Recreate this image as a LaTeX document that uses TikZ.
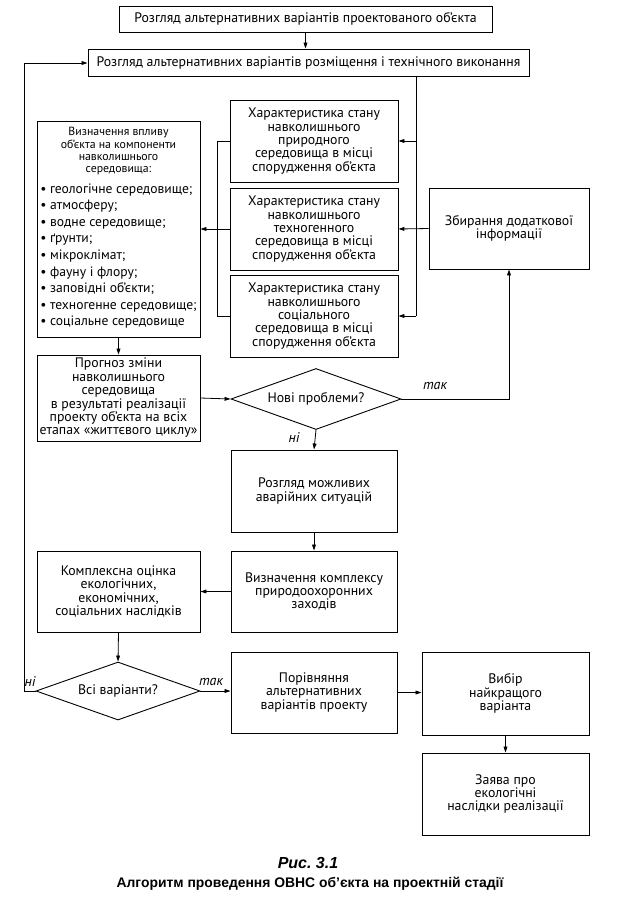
\documentclass[tikz,border=0pt]{standalone}
\usepackage{fontspec}
\setmainfont{PT Sans}
\newfontfamily\capfont{Liberation Sans}
\usetikzlibrary{arrows.meta,shapes.geometric}
\begin{document}
\begin{tikzpicture}[x=1pt,y=-1pt,
  every node/.style={font=\fontsize{13.8}{13.4}\selectfont},
  box/.style={draw, line width=0.9pt, inner sep=0pt, align=center},
  dia/.style={draw, line width=0.9pt, diamond, aspect=2.8, inner sep=0pt},
  conn/.style={line width=0.8pt, -{Triangle[length=6pt,width=3.8pt]}},
  plain/.style={line width=0.8pt},
  lbl/.style={font=\fontsize{14}{14}\selectfont\itshape}]
\useasboundingbox (0,0) rectangle (617,921);

\node[box, minimum width=373, minimum height=26] (top) at (305.5,19) {Розгляд альтернативних варіантів проектованого об’єкта};
\node[box, minimum width=441, minimum height=27] (alt) at (308.5,62.5) {Розгляд альтернативних варіантів розміщення і технічного виконання};

\node[box, minimum width=168, minimum height=82] (ch1) at (314,141) {Характеристика стану\\навколишнього\\природного\\середовища в місці\\спорудження об’єкта};
\node[box, minimum width=168, minimum height=82] (ch2) at (314,229) {Характеристика стану\\навколишнього\\техногенного\\середовища в місці\\спорудження об’єкта};
\node[box, minimum width=168, minimum height=82] (ch3) at (314,316) {Характеристика стану\\навколишнього\\соціального\\середовища в місці\\спорудження об’єкта};

\node[box, minimum width=163, minimum height=216] (vpl) at (118.5,229) {{\fontsize{11.8}{12.3}\selectfont\begin{tabular}{@{}c@{}}Визначення впливу\\об’єкта на компоненти\\навколишнього\\середовища:\end{tabular}}\\[4pt]
{\fontsize{13.6}{16.6}\selectfont\begin{tabular}{@{}l@{}}• геологічне середовище;\\• атмосферу;\\• водне середовище;\\• ґрунти;\\• мікроклімат;\\• фауну і флору;\\• заповідні об’єкти;\\• техногенне середовище;\\• соціальне середовище\end{tabular}}};

\node[box, minimum width=160, minimum height=81] (zb) at (509,228.5) {Збирання додаткової\\інформації};

\node[box, minimum width=163, minimum height=86] (prg) at (118.5,398) {Прогноз зміни\\навколишнього\\середовища\\в результаті реалізації\\проекту об’єкта на всіх\\етапах «життєвого циклу»};

\node[dia, minimum width=170, minimum height=61] (d1) at (316,399) {Нові проблеми?};

\node[box, minimum width=166, minimum height=82] (avr) at (314,491) {Розгляд можливих\\аварійних ситуацій};
\node[box, minimum width=166, minimum height=81] (zah) at (314,591.5) {Визначення комплексу\\природоохоронних\\заходів};
\node[box, minimum width=163, minimum height=81] (kom) at (118.5,591.5) {Комплексна оцінка\\екологічних,\\економічних,\\соціальних наслідків};

\node[dia, minimum width=164, minimum height=58] (d2) at (118,691) {Всі варіанти?};

\node[box, minimum width=166, minimum height=81] (por) at (314,692.5) {Порівняння\\альтернативних\\варіантів проекту};
\node[box, minimum width=167, minimum height=83] (vyb) at (505.5,693.5) {Вибір\\найкращого\\варіанта};
\node[box, minimum width=167, minimum height=82] (zay) at (505.5,794) {Заява про\\екологічні\\наслідки реалізації};

\node[lbl] (tak1) at (435,386) {так};
\node[lbl] (ni1) at (294,438) {ні};
\node[lbl] (ni2) at (30,682) {ні};
\node[lbl] (tak2) at (211,682) {так};

\node[font=\capfont\bfseries\itshape\fontsize{16}{18}\selectfont] (cap1) at (308,863) {Рис.\ 3.1};
\node[font=\capfont\bfseries\fontsize{13.9}{16}\selectfont] (cap2) at (310,884) {Алгоритм проведення ОВНС об’єкта на проектній стадії};

% coordinates
\coordinate (rl1) at (416,76);

% connectors
\draw[conn] (top.south) -- (top.south |- alt.north);
\draw[plain] (alt.south -| rl1) -- (416,316);
\draw[conn] (416,141) -- (ch1.east);
\draw[conn] (416,316) -- (ch3.east);
\draw[plain] (ch1.west) -- (217,141) -- (217,316) -- (ch3.west);
\draw[conn] (ch2.west) -- (vpl.east);
\draw[conn] (zb.west) -- (ch2.east);
\draw[conn] (vpl.south) -- (prg.north);
\draw[conn] (prg.east) -- (d1.west);
\draw[conn] (d1.east) -- (zb.south |- d1.east) -- (zb.south);
\draw[conn] (d1.south) -- (avr.north);
\draw[conn] (avr.south) -- (zah.north);
\draw[conn] (zah.west) -- (kom.east);
\draw[conn] (kom.south) -- (d2.north);
\draw[conn] (d2.west) -- (24.5,691) -- (24.5,63) -- (alt.west |- 0,63);
\draw[conn] (d2.east) -- (por.west |- d2.east);
\draw[conn] (por.east) -- (vyb.west |- por.east);
\draw[conn] (vyb.south) -- (zay.north);
\end{tikzpicture}
\end{document}
